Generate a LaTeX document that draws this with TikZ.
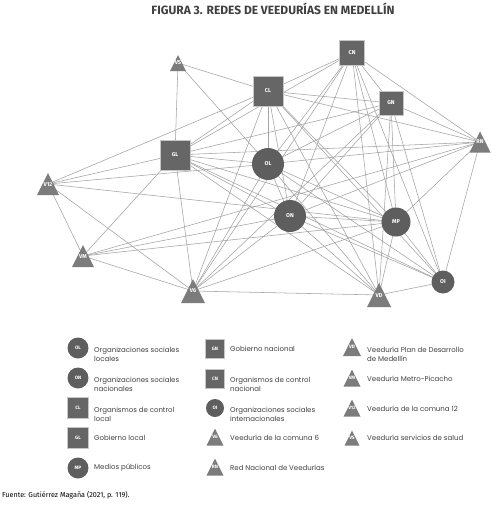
\documentclass[tikz,border=0pt]{standalone}
\usepackage{fontspec}
\setmainfont{Poppins}
\newfontfamily\firafont{Fira Sans}
\usetikzlibrary{backgrounds}
\definecolor{circgray}{HTML}{5E5E5E}
\definecolor{sqgray}{HTML}{666666}
\definecolor{trigray}{HTML}{7C7C7C}
\definecolor{edgegray}{HTML}{A3A3A3}
\definecolor{txtgray}{HTML}{404040}
\newcommand{\lblfont}{\firafont\bfseries\fontsize{5.6}{6}\selectfont}
\newcommand{\smlfont}{\firafont\bfseries\fontsize{4.8}{5}\selectfont}
\begin{document}
\begin{tikzpicture}[x=1pt,y=-1pt,
  circ/.style={circle, fill=circgray, minimum size=#1, inner sep=0pt, text=white, font=\lblfont},
  sq/.style={rectangle, fill=sqgray, draw=gray!45, line width=0.8pt, minimum size=#1, inner sep=0pt, text=white, font=\lblfont},
  tri/.style={rectangle, minimum width=#1, minimum height=#1, inner sep=0pt, text=white, font=\lblfont,
    path picture={\fill[trigray] (path picture bounding box.south west) -- (path picture bounding box.south east) -- (path picture bounding box.north) -- cycle;}},
  lcirc/.style={circ=#1, font=\smlfont},
  lsq/.style={sq=#1, line width=0.5pt, font=\smlfont},
  ltri/.style={tri=#1, font=\smlfont},
  edge/.style={draw=edgegray, line width=0.55pt},
  legone/.style={anchor=west, inner sep=0pt, text=txtgray, font=\fontsize{7}{9.3}\selectfont},
  legtwo/.style={anchor=north west, inner sep=0pt, align=left, text=txtgray, font=\fontsize{7}{9.3}\selectfont}
]
\useasboundingbox (0,0) rectangle (500,512);

% title
\node[text=txtgray, font=\firafont\bfseries\fontsize{12}{13}\selectfont, inner sep=0pt] (title) at (273,9) {FIGURA 3. REDES DE VEEDURÍAS EN MEDELLÍN};

% graph nodes
\node[sq=25] (CN) at (352,53) {CN};
\node[sq=30] (CL) at (268,91) {CL};
\node[sq=24] (GN) at (391,103) {GN};
\node[sq=30] (GL) at (175,155) {GL};
\node[circ=32] (OL) at (268,164) {OL};
\node[circ=32] (ON) at (290,216) {ON};
\node[circ=29] (MP) at (396,222) {MP};
\node[circ=23] (OI) at (443,282) {OI};
\node[tri=16] (VS) at (178,63) {\raisebox{-3pt}{VS}};
\node[tri=21] (RN) at (480,142) {\raisebox{-3pt}{RN}};
\node[tri=22] (V12) at (48,184) {\raisebox{-4pt}{V12}};
\node[tri=22] (VM) at (83,256) {\raisebox{-4pt}{VM}};
\node[tri=24] (V6) at (193,291) {\raisebox{-4pt}{V6}};
\node[tri=24] (VD) at (379,295) {\raisebox{-4pt}{VD}};

\begin{scope}[on background layer]
\fill[white] (0,0) rectangle (500,512);
\foreach \a/\b in {VS/CL, VS/GL, VS/OL,
  V12/CL, V12/GL, V12/OL, V12/MP, V12/VM, V12/V6,
  VM/GL, VM/ON, VM/MP, VM/RN, VM/V6,
  V6/CL, V6/OL, V6/CN, V6/GN, V6/ON, V6/MP, V6/VD, V6/GL,
  GL/CN, GL/GN, GL/CL, GL/OL, GL/ON, GL/MP, GL/RN, GL/VD, GL/OI,
  CL/CN, CL/GN, CL/RN, CL/OL, CL/ON, CL/MP, CL/VD, CL/OI,
  CN/GN, CN/RN, CN/OL, CN/ON, CN/MP, CN/OI, CN/VD,
  GN/RN, GN/OL, GN/ON, GN/MP, GN/VD, GN/OI,
  OL/RN, OL/ON, OL/MP, OL/VD, OL/OI,
  ON/RN, ON/MP, ON/VD, ON/OI,
  MP/RN, MP/VD, MP/OI,
  RN/OI, VD/OI}
  \draw[edge] (\a.center) -- (\b.center);
\end{scope}

% legend column 1
\node[lcirc=21] (lOL) at (78,348) {OL};
\node[legtwo] (tOL) at (94,346.5) {Organizaciones sociales\\locales};
\node[lcirc=21] (lON) at (78,378) {ON};
\node[legtwo] (tON) at (94,376.5) {Organizaciones sociales\\nacionales};
\node[lsq=21] (lCL) at (78,408) {CL};
\node[legtwo] (tCL) at (94,406.5) {Organismos de control\\local};
\node[lsq=21] (lGL) at (78,438) {GL};
\node[legone] (tGL) at (94,438) {Gobierno local};
\node[lcirc=21] (lMP) at (78,468) {MP};
\node[legone] (tMP) at (94,468) {Medios públicos};

% legend column 2
\node[lsq=19] (lGN) at (215,349) {GN};
\node[legone] (tGN) at (230,349) {Gobierno nacional};
\node[lsq=19] (lCN) at (215,379) {CN};
\node[legtwo] (tCN) at (230,376.5) {Organismos de control\\nacional};
\node[lcirc=18] (lOI) at (215,408) {OI};
\node[legtwo] (tOI) at (230,406.5) {Organizaciones sociales\\internacionales};
\node[ltri=17] (lV6) at (215,437) {\raisebox{-3pt}{V6}};
\node[legone] (tV6) at (230,438) {Veeduría de la comuna 6};
\node[ltri=17] (lRN) at (215,467) {\raisebox{-3pt}{RN}};
\node[legone] (tRN) at (230,468) {Red Nacional de Veedurías};

% legend column 3
\node[ltri=18] (lVD) at (352,347) {\raisebox{-3pt}{VD}};
\node[legtwo] (tVD) at (367,346.5) {Veeduría Plan de Desarrollo\\de Medellín};
\node[ltri=17] (lVM) at (352,378) {\raisebox{-3pt}{VM}};
\node[legone] (tVM) at (367,379) {Veeduría Metro-Picacho};
\node[ltri=17] (lV12) at (352,408) {\raisebox{-3pt}{V12}};
\node[legone] (tV12) at (367,409) {Veeduría de la comuna 12};
\node[ltri=15] (lVS) at (352,438) {\raisebox{-3pt}{VS}};
\node[legone] (tVS) at (367,438) {Veeduría servicios de salud};

% source
\node[anchor=west, inner sep=0pt, text=black, font=\firafont\fontsize{7.2}{8}\selectfont] (src) at (2,495) {Fuente: Gutiérrez Magaña (2021, p. 119).};
\end{tikzpicture}
\end{document}
